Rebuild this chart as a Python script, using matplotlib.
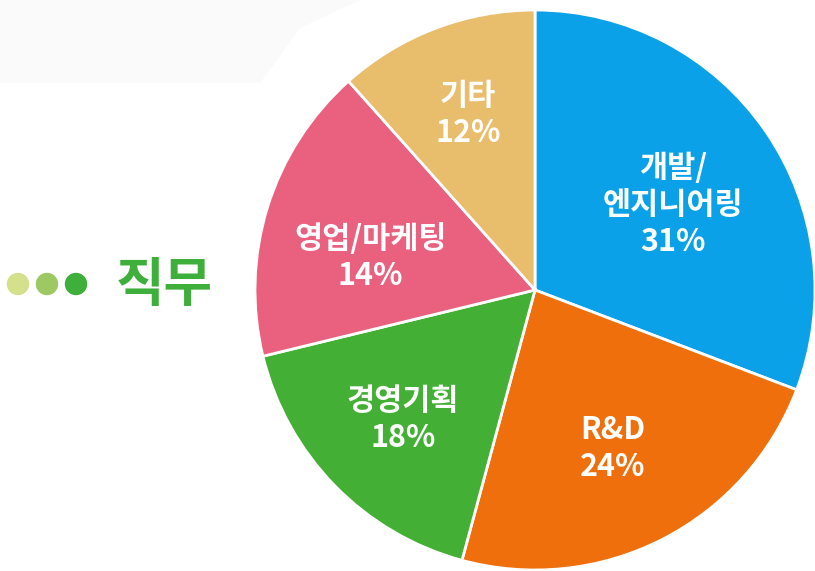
import matplotlib.pyplot as plt
import numpy as np
from matplotlib.patches import Polygon, Circle

plt.rcParams['font.family'] = ['Noto Sans CJK KR', 'DejaVu Sans']

labels = ['개발/\n엔지니어링', 'R&D', '경영기획', '영업/마케팅', '기타']
values = [31, 24, 18, 14, 12]            # printed percentages
shares = [30.8, 23.4, 17.0, 17.2, 11.6]  # wedge sizes as drawn in the picture
colors = ['#0BA1E8', '#EF6F0C', '#43B035', '#E9617F', '#E8BD6C']
label_dist = [0.58, 0.63, 0.66, 0.60, 0.67]
label_turn = [-3, -1, 0, 6, 0]  # small angular nudges (deg) for the text

W, H = 815, 571
fig = plt.figure(figsize=(W / 100, H / 100), dpi=100)
ax = fig.add_axes([0, 0, 1, 1])

# faint grey banner top-left
ax.add_patch(Polygon([(0, H), (360, H), (300, H - 28), (260, H - 83), (0, H - 83)],
                     closed=True, facecolor='#FAFAFA', edgecolor='none', zorder=0))

cx, cy, r = 535, H - 290, 280
wedges, _ = ax.pie(shares, colors=colors, startangle=90, counterclock=False,
                   center=(cx, cy), radius=r, frame=True,
                   wedgeprops=dict(edgecolor='white', linewidth=2))
ax.set_xlim(0, W)
ax.set_ylim(0, H)
ax.set_aspect('equal')
ax.axis('off')

for w, lab, v, d, t in zip(wedges, labels, values, label_dist, label_turn):
    ang = np.deg2rad((w.theta1 + w.theta2) / 2 + t)
    x = cx + d * r * np.cos(ang)
    y = cy + d * r * np.sin(ang)
    ax.text(x, y, f'{lab}\n{v}%', ha='center', va='center', color='white',
            fontsize=22, fontweight='bold', linespacing=1.2)

# title with dots
for x, c in zip([18, 47, 76], ['#D5E08C', '#9DC962', '#3DAF3A']):
    ax.add_patch(Circle((x, H - 284), 10.5, color=c))
ax.text(116, H - 286, '직무', color='#3DAF3A', fontsize=38, fontweight='bold',
        ha='left', va='center')

fig.savefig('out.png', dpi=100)
